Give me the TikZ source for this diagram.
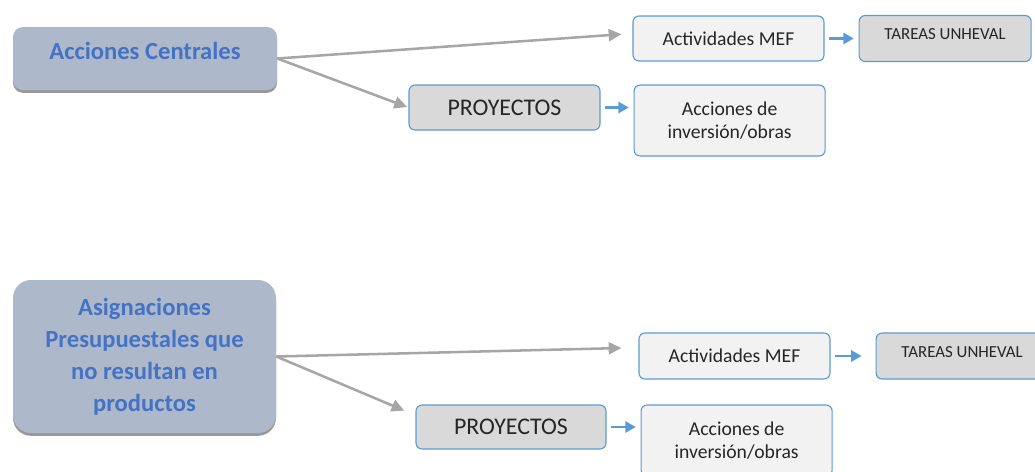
\documentclass[tikz,border=0pt]{standalone}
\usepackage{fontspec}
\setmainfont{Carlito}
\usetikzlibrary{shapes.geometric, arrows.meta, positioning, shadows}
\definecolor{grisazul}{HTML}{ADB9CA}
\definecolor{azultexto}{HTML}{4472C4}
\definecolor{azulborde}{HTML}{5B9BD5}
\definecolor{grisclaro}{HTML}{F2F2F2}
\definecolor{grismedio}{HTML}{D9D9D9}
\definecolor{grisflecha}{HTML}{A6A6A6}
\tikzstyle{grupo} = [rectangle, rounded corners=0.25cm, text centered, fill=grisazul, text=azultexto, font=\fontsize{17.5}{22.8}\selectfont\bfseries, drop shadow={shadow xshift=0pt, shadow yshift=-0.07cm, opacity=0.5, fill=black!80}]
\tikzstyle{caja} = [rectangle, rounded corners=0.15cm, minimum width=4.775cm, minimum height=1.125cm, text centered, align=center, draw=azulborde, line width=0.8pt, fill=grisclaro, text=black!85, font=\fontsize{14}{16.5}\selectfont]
\tikzstyle{cajagris} = [caja, fill=grismedio]
\tikzstyle{tarea} = [cajagris, minimum width=4.3cm, minimum height=1.15cm, text depth=0.2cm, font=\fontsize{12}{14}\selectfont]
\tikzstyle{flecha} = [line width=1.8pt, draw=grisflecha, -{Triangle[length=0.32cm, width=0.3cm]}]
\tikzstyle{flechita} = [line width=1.5pt, draw=azulborde, -{Triangle[length=0.26cm, width=0.28cm]}, shorten <=0.12cm, shorten >=0.12cm]

\begin{document}
\begin{tikzpicture}[node distance=0.85cm]
\useasboundingbox (0,0) rectangle (25.875,-11.775);

% Acciones Centrales
\node (central) [grupo, minimum width=6.6cm, minimum height=1.575cm, text depth=0.37cm] at (3.625,-1.4625) {Acciones Centrales};

\node (mef) [caja] at (18.2125,-0.9625) {Actividades MEF};
\node (tareas) [tarea, right=of mef] {TAREAS UNHEVAL};

\node (proy) [cajagris, font=\fontsize{17}{20}\selectfont] at (12.6125,-2.6875) {PROYECTOS};
\node (inv) [caja, below right=0cm and 0.825cm of proy.north east, minimum height=1.775cm] {Acciones de\\inversión/obras};

% Asignaciones que no resultan en productos
\node (asig) [grupo, minimum width=6.575cm, minimum height=3.825cm, rounded corners=0.45cm, align=center] at (3.6125,-8.9125) {Asignaciones\\Presupuestales que\\no resultan en\\productos};

\node (mefb) [caja, minimum height=1.15cm] at (18.3625,-8.9) {Actividades MEF};
\node (tareasb) [tarea, right=1.125cm of mefb] {TAREAS UNHEVAL};

\node (proyb) [cajagris, minimum width=4.75cm, minimum height=1.1cm, font=\fontsize{17}{20}\selectfont] at (12.775,-10.675) {PROYECTOS};
\node (invb) [caja, below right=0cm and 0.85cm of proyb.north east, minimum height=1.775cm] {Acciones de\\inversión/obras};

\draw [flecha, shorten >=0.275cm] (central.east) -- (mef.177);
\draw [flecha, shorten >=1pt] (central.east) -- (proy.west);
\draw [flechita] (mef) -- (tareas);
\draw [flechita] (proy.east) -- (proy.east -| inv.west);

\draw [flecha, shorten >=0.425cm] (asig.east) -- (mefb.175);
\draw [flecha, shorten >=0.3cm] (asig.east) -- (proyb.173);
\draw [flechita, shorten >=0.35cm] (mefb) -- (tareasb);
\draw [flechita] (proyb.east) -- (proyb.east -| invb.west);
\end{tikzpicture}
\end{document}
